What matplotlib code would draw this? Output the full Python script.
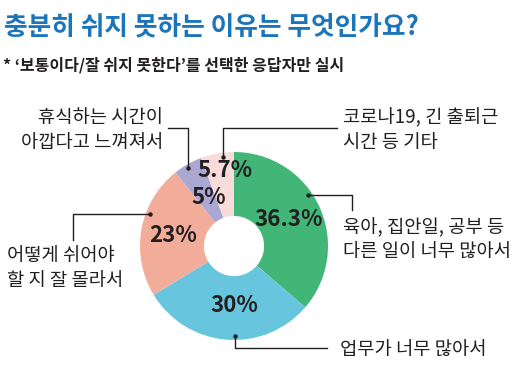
import matplotlib
matplotlib.use("Agg")
import matplotlib.pyplot as plt
import numpy as np

plt.rcParams['font.family'] = ['Noto Sans CJK KR', 'DejaVu Sans']

# 데이터 (시작: 12시 방향, 시계방향)
labels = ["육아, 집안일, 공부 등\n다른 일이 너무 많아서",
          "업무가 너무 많아서",
          "어떻게 쉬어야\n할 지 잘 몰라서",
          "휴식하는 시간이\n아깝다고 느껴져서",
          "코로나19, 긴 출퇴근\n시간 등 기타"]
values = [36.3, 30, 23, 5, 5.7]
pct_text = ["36.3%", "30%", "23%", "5%", "5.7%"]
colors = ["#41b677", "#67c6de", "#f2ad9a", "#aba7d3", "#f7dcd9"]

title = "충분히 쉬지 못하는 이유는 무엇인가요?"
subtitle = "* ‘보통이다/잘 쉬지 못한다’를 선택한 응답자만 실시"

W, H = 525, 391
fig = plt.figure(figsize=(W / 100, H / 100), dpi=100)
ax = fig.add_axes([0, 0, 1, 1])
ax.set_xlim(0, W)
ax.set_ylim(0, H)
ax.axis("off")

def Y(py):
    return H - py

cx, cy, R = 234, Y(246), 94
wedges, _ = ax.pie(values, colors=colors, startangle=90, counterclock=False,
                   center=(cx, cy), radius=R,
                   wedgeprops=dict(width=R * 0.68, edgecolor="none"))
ax.set_aspect("equal")
ax.set_xlim(0, W)
ax.set_ylim(0, H)

# 퍼센트 라벨 위치 (각도, 반지름 비율)
pct_pos = [(26, 0.65), (-90, 0.63), (170, 0.66), (118, 0.58), (97, 0.81)]
for t, (ang, rr) in zip(pct_text, pct_pos):
    a = np.deg2rad(ang)
    ax.text(cx + R * rr * np.cos(a), cy + R * rr * np.sin(a), t,
            ha="center", va="center", fontsize=16, fontweight="bold",
            color="#231f20")

# 지시선: 점 각도, 꺾임 경로, 텍스트 위치
lead = [
    (34.6, "h", (352, 210), (343, 240), "left"),
    (-89.4, "v", (327, 348), (340, 350), "left"),
    (159, "h", (73, 240), (7, 268), "left"),
    (120.5, "v", (168, 128), (163, 130), "right"),
    (96.9, "v", (337, 128), (343, 130), "left"),
]
for lab, (ang, kind, end, tpos, ha) in zip(labels, lead):
    a = np.deg2rad(ang)
    px, py = cx + 90 * np.cos(a), cy + 90 * np.sin(a)
    if kind == "h":
        xs = [px, end[0], end[0]]
        ys = [py, py, Y(end[1])]
    else:
        xs = [px, px, end[0]]
        ys = [py, Y(end[1]), Y(end[1])]
    ax.plot(xs, ys, color="#231f20", lw=1.0)
    ax.plot(px, py, "o", color="#231f20", ms=2.2)
    ax.text(tpos[0], Y(tpos[1]), lab, ha=ha, va="center", fontsize=13.5,
            color="#231f20", linespacing=1.25, multialignment=ha)

fig.text(4 / W, 1 - 28 / H, title, fontsize=18.5, fontweight="bold",
         color="#1a75bb", va="center", ha="left")
fig.text(3 / W, 1 - 65 / H, subtitle, fontsize=11.5, fontweight="bold",
         color="#231f20", va="center", ha="left")

fig.savefig("out.png", dpi=100)
